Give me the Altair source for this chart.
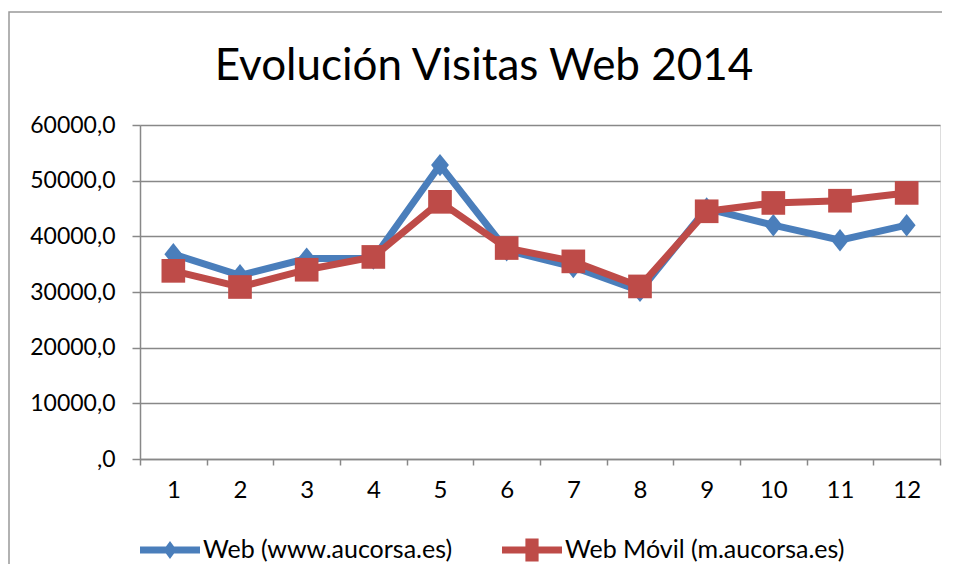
import altair as alt
import pandas as pd

meses = [1, 2, 3, 4, 5, 6, 7, 8, 9, 10, 11, 12]
web = [36800, 33000, 36000, 36000, 52800, 37500, 34500, 30200, 45000, 42000, 39300, 42000]
movil = [33800, 30900, 34000, 36300, 46200, 37900, 35500, 31000, 44500, 46000, 46400, 47800]
series = ["Web (www.aucorsa.es)", "Web Móvil (m.aucorsa.es)"]
colores = ["#4A7EBB", "#BE4B48"]
y_ticks = [0, 10000, 20000, 30000, 40000, 50000, 60000]

df = pd.DataFrame({
    "mes": meses * 2,
    "visitas": web + movil,
    "serie": [series[0]] * len(meses) + [series[1]] * len(meses),
})
df_web = df[df["serie"] == series[0]]
df_movil = df[df["serie"] == series[1]]

FONT = "Lato"

x_enc = alt.X("mes:O", title=None,
              scale=alt.Scale(paddingInner=0, paddingOuter=0),
              axis=alt.Axis(labelAngle=0, tickBand="extent", tickSize=6,
                            labelPadding=13, labelFontSize=24, labelFont=FONT,
                            labelColor="black", domainColor="#888888",
                            tickColor="#888888", domainWidth=1.5, tickWidth=1.5,
                            grid=False))
y_enc = alt.Y("visitas:Q", title=None,
              scale=alt.Scale(domain=[0, 60000], nice=False),
              axis=alt.Axis(values=y_ticks, tickSize=8, labelPadding=17,
                            labelFontSize=23, labelFont=FONT, labelColor="black",
                            labelExpr="datum.value == 0 ? ',0' : replace(format(datum.value, '.1f'), '.', ',')",
                            domainColor="#888888", tickColor="#888888",
                            domainWidth=1.5, tickWidth=1.5,
                            grid=True, gridColor="#888888", gridWidth=1.5))

diamond = "M0,-1L0.8,0L0,1L-0.8,0Z"

line_web = alt.Chart(df_web).mark_line(strokeWidth=7, color=colores[0]).encode(x=x_enc, y=y_enc)
pts_web = alt.Chart(df_web).mark_point(filled=True, opacity=1, shape=diamond, size=500,
                                       color=colores[0]).encode(x="mes:O", y="visitas:Q")
line_movil = alt.Chart(df_movil).mark_line(strokeWidth=7, color=colores[1]).encode(x="mes:O", y="visitas:Q")
pts_movil = alt.Chart(df_movil).mark_point(filled=True, opacity=1, shape="square", size=560,
                                           color=colores[1]).encode(x="mes:O", y="visitas:Q")

leg_web = "M-1,-0.117L1,-0.117L1,0.117L-1,0.117Z M0,-0.3L0.22,0L0,0.3L-0.22,0Z"
leg_movil = "M-1,-0.117L1,-0.117L1,0.117L-1,0.117Z M-0.22,-0.38L0.22,-0.38L0.22,0.38L-0.22,0.38Z"

legend_layer = alt.Chart(df).mark_point(filled=True, size=0, opacity=1).encode(
    x="mes:O", y="visitas:Q",
    color=alt.Color("serie:N", scale=alt.Scale(domain=series, range=colores),
                    legend=alt.Legend(title=None, orient="none", legendX=0, legendY=395,
                                      direction="horizontal", symbolSize=3600,
                                      symbolOpacity=1, symbolStrokeWidth=0,
                                      labelFont=FONT, labelFontSize=25, labelColor="black",
                                      labelOffset=3, columnPadding=49, padding=0,
                                      labelLimit=400)),
    shape=alt.Shape("serie:N", scale=alt.Scale(domain=series, range=[leg_web, leg_movil])),
)

border = alt.Chart(pd.DataFrame({"a": [0]})).mark_rect(
    fill=None, stroke="#999999", strokeWidth=1.5
).encode(x=alt.value(-131), x2=alt.value(900), y=alt.value(-113), y2=alt.value(600))

chart = alt.layer(
    border, line_web, pts_web, line_movil, pts_movil, legend_layer
).properties(
    width=800, height=334,
    title=alt.Title("Evolución Visitas Web 2014", font=FONT, fontSize=44,
                    fontWeight="normal", color="black", anchor="middle",
                    frame="group", dx=-56, offset=-113, baseline="alphabetic"),
    autosize=alt.AutoSizeParams(type="none"),
    padding={"left": 132, "top": 117, "right": 2, "bottom": 105},
).configure_view(stroke=None).configure(background="white")

chart.save("out.html", embed_options={"renderer": "svg", "actions": False})
